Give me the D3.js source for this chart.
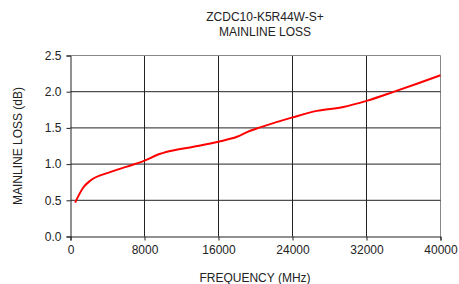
<!DOCTYPE html>
<html><head><meta charset="utf-8">
<script src="https://cdn.jsdelivr.net/npm/d3@7"></script>
<style>body{margin:0;background:#fff}svg{display:block}text{font-family:"Liberation Sans",Arial,sans-serif;fill:#222}</style>
</head><body>
<svg id="c" width="459" height="284"></svg>
<script>
const freq = [500, 1400, 2130, 4290, 6100, 8000, 9340, 10780, 13300, 16000, 18000, 19430, 20500, 24000, 26640, 29510, 32000, 34920, 37450, 40000];
const loss = [0.468, 0.68, 0.77, 0.89, 0.965, 1.047, 1.125, 1.18, 1.24, 1.31, 1.377, 1.46, 1.507, 1.645, 1.735, 1.79, 1.873, 1.997, 2.11, 2.227];
const xTicks = [0, 8000, 16000, 24000, 32000, 40000];
const yTicks = [0, 0.5, 1.0, 1.5, 2.0, 2.5];
const titleLines = ["ZCDC10-K5R44W-S+", "MAINLINE LOSS"];
const xLabel = "FREQUENCY (MHz)";
const yLabel = "MAINLINE LOSS (dB)";

const svg = d3.select("#c");
const L = 70.5, R = 440.5, T = 55.5, B = 236.5;
const x = d3.scaleLinear().domain([0, 40000]).range([L, R]);
const y = d3.scaleLinear().domain([0, 2.5]).range([B, T]);

// grid
svg.append("g").selectAll("line").data(xTicks.slice(1)).join("line")
  .attr("x1", d => x(d)).attr("x2", d => x(d)).attr("y1", T).attr("y2", B)
  .attr("stroke", d => d === 40000 ? "#888" : "#222").attr("stroke-width", 1);
svg.append("g").selectAll("line").data(yTicks.slice(1)).join("line")
  .attr("x1", L).attr("x2", R).attr("y1", d => y(d)).attr("y2", d => y(d))
  .attr("stroke", d => d === 2.5 ? "#888" : "#222").attr("stroke-width", 1);

// axes
const xa = svg.append("g").attr("transform", `translate(0,${B})`)
  .call(d3.axisBottom(x).tickValues(xTicks).tickFormat(d3.format("d")).tickSize(4).tickPadding(5));
const ya = svg.append("g").attr("transform", `translate(${L},0)`)
  .call(d3.axisLeft(y).tickValues(yTicks).tickFormat(d3.format(".1f")).tickSize(4).tickPadding(5));
[xa, ya].forEach(a => {
  a.select(".domain").attr("stroke", "#222");
  a.selectAll(".tick line").attr("stroke", "#222");
  a.selectAll("text").style("font-family", "'Liberation Sans',Arial,sans-serif").style("font-size", "12px").attr("fill", "#222");
});

// line
svg.append("path").datum(freq.map((f, i) => [f, loss[i]]))
  .attr("fill", "none").attr("stroke", "#ff0000").attr("stroke-width", 2)
  .attr("d", d3.line().x(d => x(d[0])).y(d => y(d[1])).curve(d3.curveMonotoneX));

// titles
svg.append("g").selectAll("text").data(titleLines).join("text")
  .attr("x", 265).attr("y", (d, i) => 21 + i * 15).attr("text-anchor", "middle")
  .style("font-size", "12px").text(d => d);
svg.append("text").attr("x", 255).attr("y", 282).attr("text-anchor", "middle")
  .style("font-size", "12px").text(xLabel);
svg.append("text").attr("transform", "translate(22,146) rotate(-90)").attr("text-anchor", "middle")
  .style("font-size", "12px").text(yLabel);
</script>
</body></html>
